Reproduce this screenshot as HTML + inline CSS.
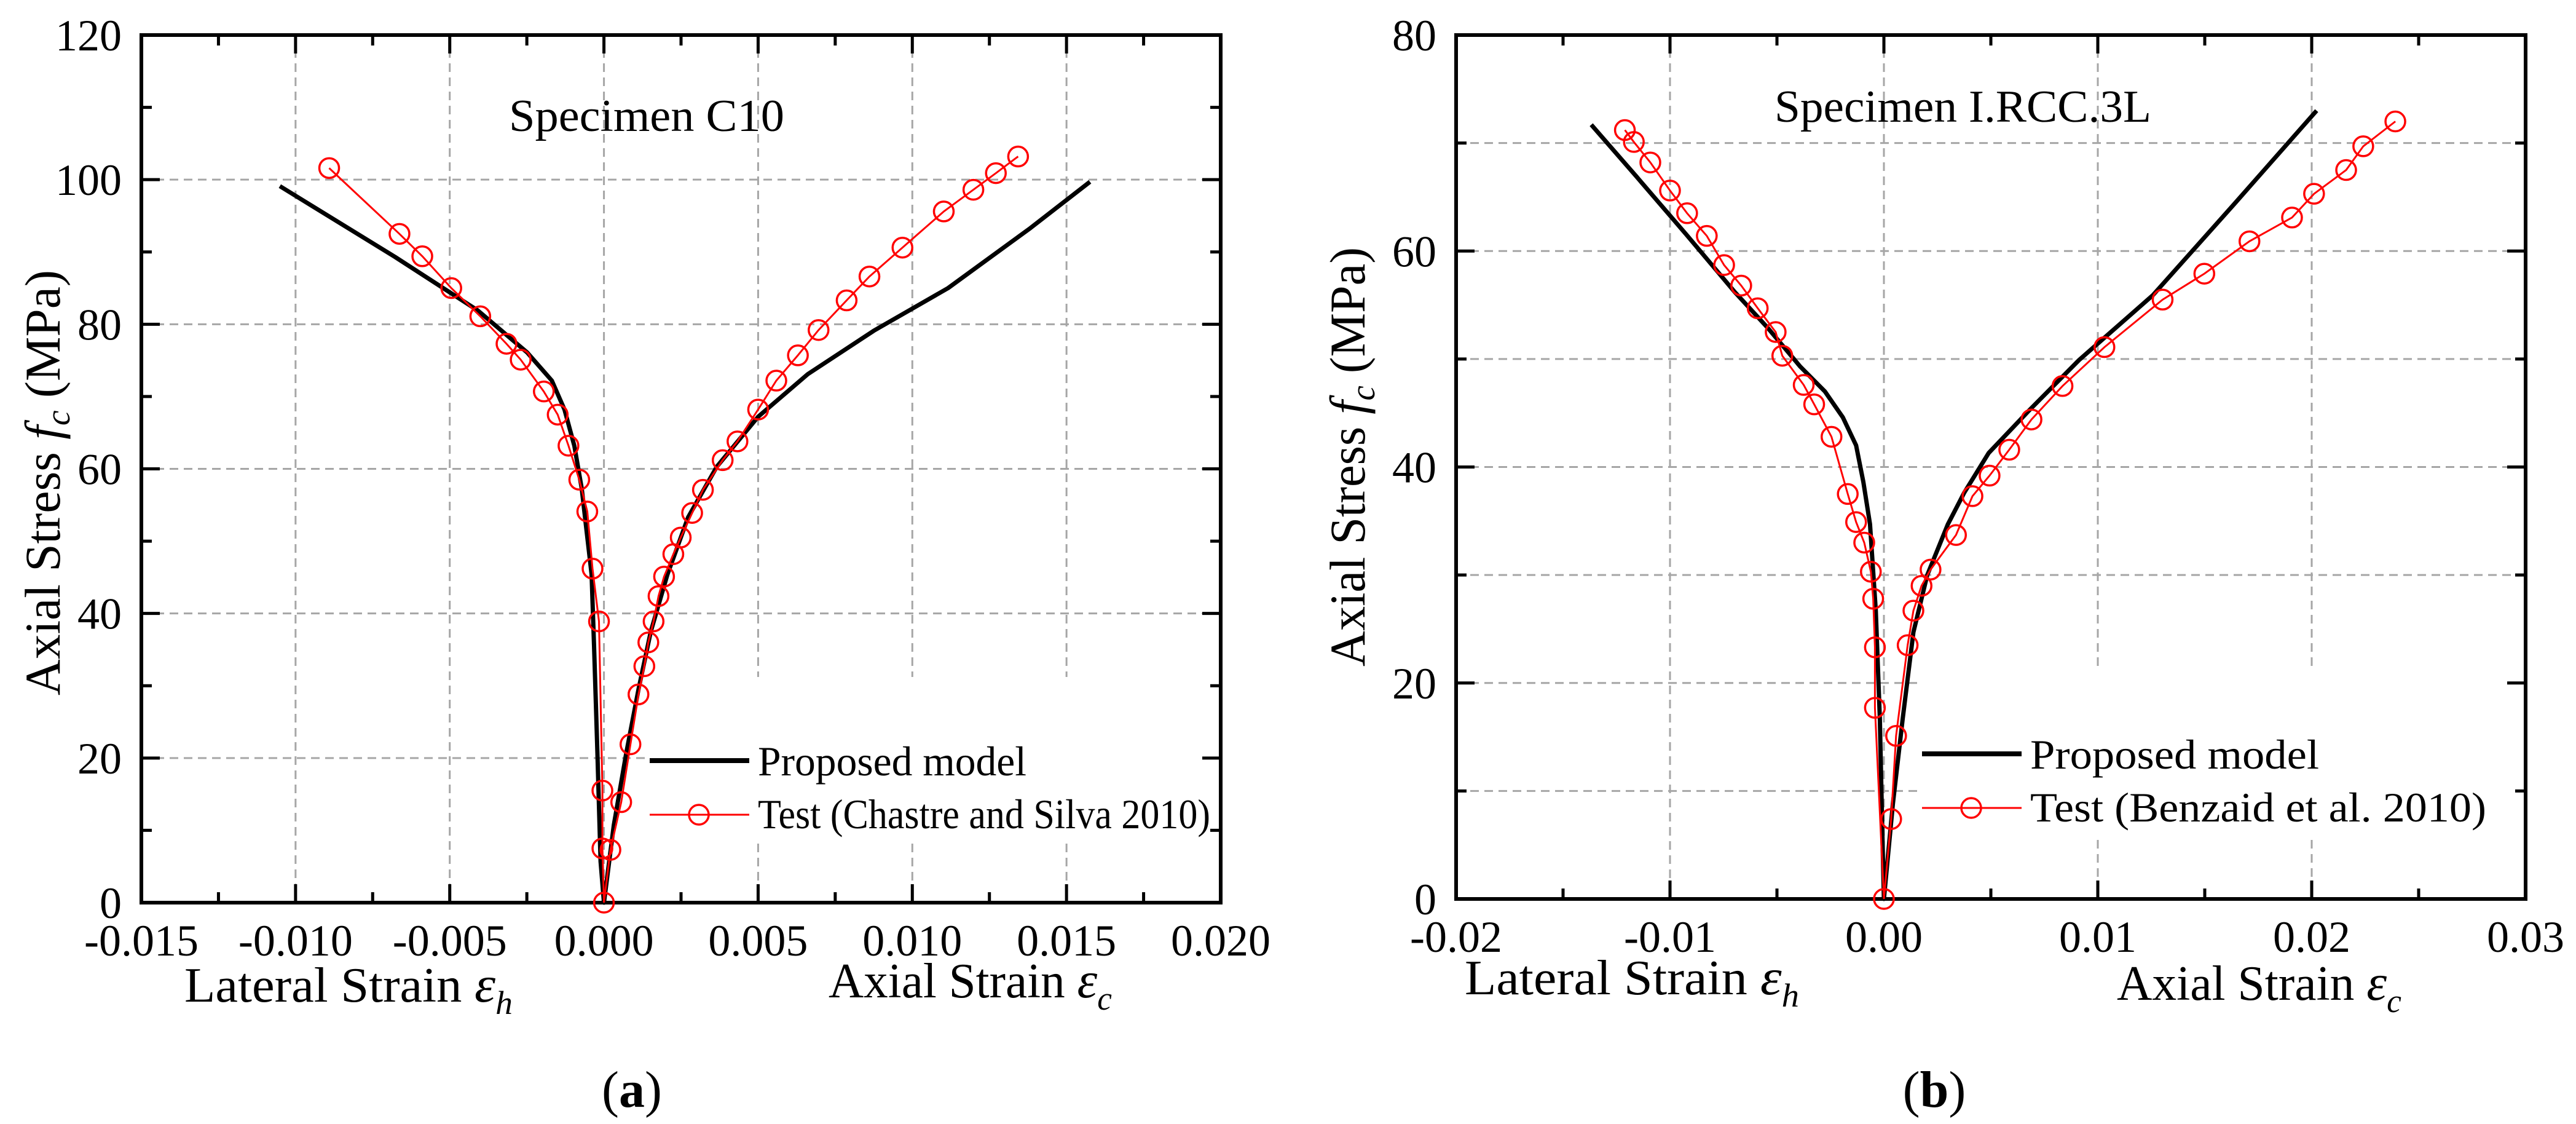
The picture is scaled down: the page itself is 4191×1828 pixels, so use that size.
<!DOCTYPE html>
<html><head><meta charset="utf-8"><style>
html,body{margin:0;padding:0;background:#fff}
svg{display:block}
svg text, svg tspan{font-family:"Liberation Serif","Times New Roman",serif;fill:#000}
</style></head><body>
<svg id="fig" xmlns="http://www.w3.org/2000/svg" width="4191" height="1828" viewBox="0 0 4191 1828" font-family="Liberation Serif, serif"></svg>
<script>
// ---- Panel (a) data ----
const aModelX = [-0.01051,-0.00677,-0.00409,-0.00249,-0.00169,-0.00128,-0.00096,-0.00072,-0.00056,-0.00040,-0.00032,-0.00021,-0.00011,0,0.00032,0.00072,0.00112,0.00152,0.00206,0.00273,0.00366,0.00500,0.00661,0.00875,0.01116,0.01383,0.01576];
const aModelY = [99.1,89.3,81.9,76.1,72.2,68.2,63.2,57.3,51.3,45.4,35.5,20.6,5.7,0,10.7,20.6,29.5,37.5,45.4,53.3,60.3,67.2,73.1,79.1,85.0,93.3,99.7];
const aTestX = [-0.00891,-0.00663,-0.00589,-0.00495,-0.00401,-0.00316,-0.00270,-0.00195,-0.00150,-0.00115,-0.00080,-0.00054,-0.00037,-0.00016,-0.00005,-0.00005,0,0.00021,0.00056,0.00086,0.00112,0.00131,0.00144,0.00161,0.00177,0.00195,0.00225,0.00249,0.00286,0.00321,0.00385,0.00433,0.00500,0.00559,0.00629,0.00696,0.00787,0.00861,0.00968,0.01102,0.01198,0.01271,0.01343];
const aTestY = [101.6,92.5,89.4,85.0,81.1,77.3,75.1,70.7,67.5,63.2,58.5,54.1,46.2,38.9,15.5,7.5,0,7.3,13.9,21.9,28.8,32.7,36.0,38.9,42.4,45.1,48.2,50.5,53.9,57.1,61.2,63.8,68.2,72.2,75.7,79.2,83.3,86.6,90.6,95.6,98.6,100.9,103.2];
const aXTicks = ["-0.015","-0.010","-0.005","0.000","0.005","0.010","0.015","0.020"];
const aYTicks = ["0","20","40","60","80","100","120"];
// ---- Panel (b) data ----
const bModelX = [-0.01368,-0.01157,-0.00927,-0.00697,-0.00544,-0.00391,-0.00276,-0.00192,-0.00130,-0.00096,-0.00065,-0.00038,-0.00019,-0.00008,0,0.00042,0.00088,0.00138,0.00203,0.00299,0.00375,0.00490,0.00682,0.00912,0.01257,0.01640,0.02023];
const bModelY = [71.7,66.9,61.6,56.2,52.9,49.3,47.0,44.6,42.0,38.6,34.7,26.7,16.7,6.8,0,8.8,16.7,24.7,30.0,34.7,37.6,41.3,45.3,49.9,55.9,64.4,73.0];
const bTestX = [-0.01211,-0.01169,-0.01092,-0.01000,-0.00920,-0.00828,-0.00747,-0.00667,-0.00590,-0.00506,-0.00475,-0.00375,-0.00326,-0.00245,-0.00169,-0.00130,-0.00092,-0.00061,-0.00050,-0.00042,-0.00042,0,0.00034,0.00057,0.00111,0.00138,0.00176,0.00218,0.00337,0.00414,0.00494,0.00586,0.00690,0.00835,0.01031,0.01303,0.01498,0.01709,0.01908,0.02011,0.02161,0.02241,0.02391];
const bTestY = [71.2,70.1,68.2,65.6,63.5,61.4,58.7,56.8,54.7,52.5,50.3,47.6,45.8,42.8,37.5,34.9,33.0,30.3,27.8,23.3,17.7,0,7.4,15.1,23.5,26.7,29.0,30.5,33.7,37.3,39.2,41.6,44.4,47.5,51.1,55.5,57.9,60.9,63.1,65.3,67.5,69.7,72.0];
const bXTicks = ["-0.02","-0.01","0.00","0.01","0.02","0.03"];
const bYTicks = ["0","20","40","60","80"];

const NS="http://www.w3.org/2000/svg";
const svg=document.getElementById('fig');
function mk(tag,attrs,parent,txt){const e=document.createElementNS(NS,tag);for(const k in attrs)e.setAttribute(k,attrs[k]);if(txt!==undefined)e.textContent=txt;(parent||svg).appendChild(e);return e;}

function panel(cfg){
  const g=mk('g',{});
  
  
  const L=cfg.L,R=cfg.R,T=cfg.T,B=cfg.B;
  const sx=v=>L+(v-cfg.xmin)/(cfg.xmax-cfg.xmin)*(R-L);
  const sy=v=>B-(v-cfg.ymin)/(cfg.ymax-cfg.ymin)*(B-T);
  const grid=mk('g',{},g);
  
  
  const dash={stroke:'#a6a6a6','stroke-width':3,'stroke-dasharray':'14 9',fill:'none'};
  cfg.gridX.forEach(v=>{const x=sx(v);
    if(x>cfg.leg[0]&&x<cfg.leg[2]){
      mk('line',Object.assign({x1:x,x2:x,y1:T,y2:cfg.leg[1]},dash),grid);
      mk('line',Object.assign({x1:x,x2:x,y1:cfg.leg[3],y2:B},dash),grid);
    } else mk('line',Object.assign({x1:x,x2:x,y1:T,y2:B},dash),grid);});
  cfg.gridY.forEach(v=>{const y=sy(v);
    if(y>cfg.leg[1]&&y<cfg.leg[3]) mk('line',Object.assign({x1:L,x2:cfg.leg[0],y1:y,y2:y},dash),grid);
    else mk('line',Object.assign({x1:L,x2:R,y1:y,y2:y},dash),grid);});
  const ticks=mk('g',{stroke:'#000','stroke-width':5},g);
  
  
  for(let v=cfg.xmin,i=0;v<=cfg.xmax+1e-9;v+=cfg.xminor,i++){const x=sx(v);const len=(i%2===0)?30:17;
    mk('line',{x1:x,x2:x,y1:B,y2:B-len},ticks);mk('line',{x1:x,x2:x,y1:T,y2:T+len},ticks);}
  for(let v=cfg.ymin,i=0;v<=cfg.ymax+1e-9;v+=cfg.yminor,i++){const y=sy(v);const len=(i%2===0)?30:17;
    mk('line',{x1:L,x2:L+len,y1:y,y2:y},ticks);mk('line',{x1:R,x2:R-len,y1:y,y2:y},ticks);}
  const frame=mk('rect',{x:L,y:T,width:R-L,height:B-T,fill:'none',stroke:'#000','stroke-width':6},g);
  
  
  cfg.xTicks.forEach(t=>{const e=mk('text',{x:sx(parseFloat(t)),y:B+86,'font-size':72,'text-anchor':'middle'},g,t);
    
    });
  cfg.yTicks.forEach(t=>{const e=mk('text',{x:L-32,y:sy(parseFloat(t))+25,'font-size':72,'text-anchor':'end'},g,t);
    
    });
  const pts=(X,Y)=>X.map((x,i)=>sx(x).toFixed(1)+','+sy(Y[i]).toFixed(1)).join(' ');
  const model=mk('polyline',{points:pts(cfg.mX,cfg.mY),fill:'none',stroke:'#000','stroke-width':7,'stroke-linejoin':'round'},g);
  
  
  const test=mk('polyline',{points:pts(cfg.tX,cfg.tY),fill:'none',stroke:'#ff0000','stroke-width':3},g);
  
  
  cfg.tX.forEach((x,i)=>{const c=mk('circle',{cx:sx(x),cy:sy(cfg.tY[i]),r:16,fill:'none',stroke:'#ff0000','stroke-width':3.5},g);
    
    });
  const lg=mk('g',{},g);
  
  
  const lx=cfg.legItem[0],ly=cfg.legItem[1];
  mk('line',{x1:lx,x2:lx+162,y1:ly,y2:ly,stroke:'#000','stroke-width':8},lg);
  mk('line',{x1:lx,x2:lx+162,y1:ly+88,y2:ly+88,stroke:'#ff0000','stroke-width':3},lg);
  mk('circle',{cx:lx+80,cy:ly+88,r:16,fill:'none',stroke:'#ff0000','stroke-width':3.5},lg);
  const t1=mk('text',{x:lx+176,y:ly+24,'font-size':68,textLength:cfg.legW[0],lengthAdjust:'spacingAndGlyphs'},lg,'Proposed model');
  
  
  const t2=mk('text',{x:lx+176,y:ly+110,'font-size':68,textLength:cfg.legW[1],lengthAdjust:'spacingAndGlyphs'},lg,cfg.testLabel);
  
  
  const ti=mk('text',{x:cfg.title[1],y:cfg.title[2],'font-size':74,textLength:cfg.title[3],lengthAdjust:'spacingAndGlyphs'},g,cfg.title[0]);
  
  
  const yt=mk('text',{x:-cfg.yT[2]/2,y:0,'font-size':82,textLength:cfg.yT[2],lengthAdjust:'spacingAndGlyphs',transform:`translate(${cfg.yT[0]},${cfg.yT[1]}) rotate(-90)`},g);
  
  
  mk('tspan',{},yt,'Axial Stress  ');
  mk('tspan',{'font-style':'italic'},yt,'f');
  mk('tspan',{'font-style':'italic','font-size':56,dy:16},yt,'c');
  mk('tspan',{dy:-16},yt,' (MPa)');
  const xl=mk('text',{x:cfg.lat[0],y:cfg.lat[1],'font-size':80,textLength:cfg.lat[2],lengthAdjust:'spacingAndGlyphs'},g);
  
  
  mk('tspan',{},xl,'Lateral  Strain ');
  mk('tspan',{'font-style':'italic','font-size':84},xl,'ε');
  mk('tspan',{'font-style':'italic','font-size':54,dy:20},xl,'h');
  const xa=mk('text',{x:cfg.ax[0],y:cfg.ax[1],'font-size':80,textLength:cfg.ax[2],lengthAdjust:'spacingAndGlyphs'},g);
  
  
  mk('tspan',{},xa,'Axial Strain ');
  mk('tspan',{'font-style':'italic','font-size':84},xa,'ε');
  mk('tspan',{'font-style':'italic','font-size':54,dy:20},xa,'c');
  const pl=mk('text',{x:cfg.pl[0],y:1800,'font-size':84,'text-anchor':'middle'},g);
  
  
  mk('tspan',{},pl,'(');mk('tspan',{'font-weight':'bold'},pl,cfg.pl[1]);mk('tspan',{},pl,')');
}

panel({name:'panel-a-chart',L:230,R:1986,T:57,B:1468,xmin:-0.015,xmax:0.020,ymin:0,ymax:120,
  xminor:0.0025,yminor:10,gridX:[-0.010,-0.005,0,0.005,0.010,0.015],gridY:[20,40,60,80,100],
  leg:[1052,1101,1984,1372],legItem:[1057,1237],legW:[437,736],testLabel:'Test (Chastre and Silva 2010)',
  xTicks:aXTicks,yTicks:aYTicks,mX:aModelX,mY:aModelY,tX:aTestX,tY:aTestY,
  title:['Specimen C10',828,213,448],yT:[97,785,692],lat:[300,1629,534],ax:[1348,1622,461],pl:[1028,'a']});
panel({name:'panel-b-chart',L:2369,R:4109,T:57,B:1462,xmin:-0.02,xmax:0.03,ymin:0,ymax:80,
  xminor:0.005,yminor:10,gridX:[-0.01,0,0.01,0.02],gridY:[10,20,30,40,50,60,70],
  leg:[3122,1084,4106,1366],legItem:[3127,1226],legW:[470,742],testLabel:'Test (Benzaid et al. 2010)',
  xTicks:bXTicks,yTicks:bYTicks,mX:bModelX,mY:bModelY,tX:bTestX,tY:bTestY,
  title:['Specimen I.RCC.3L',2887,198,613],yT:[2220,743,682],lat:[2383,1617,544],ax:[3444,1626,463],pl:[3147,'b']});
</script>
</body></html>
